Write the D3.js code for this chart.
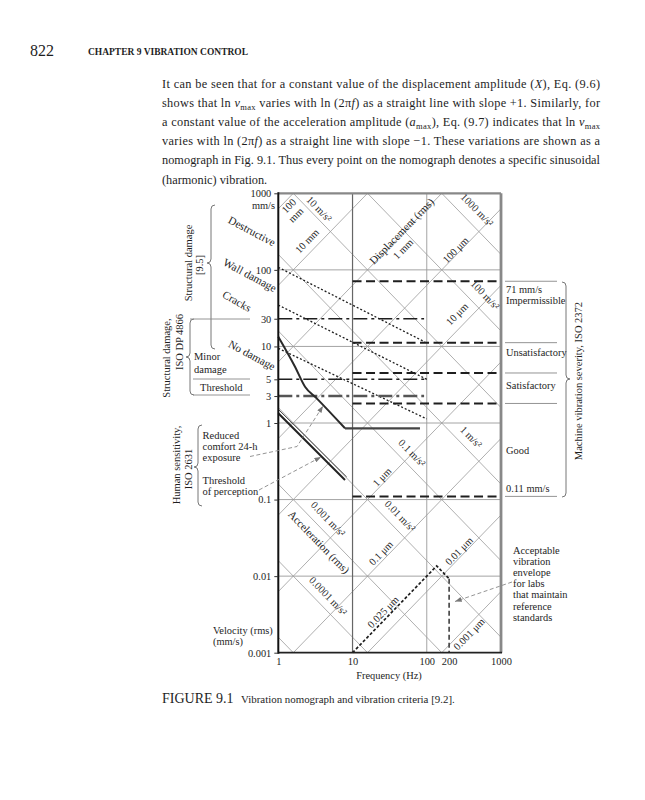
<!DOCTYPE html>
<html><head><meta charset="utf-8">
<script src="https://cdn.jsdelivr.net/npm/d3@7"></script>
<style>
body{margin:0;background:#fff;}
svg{display:block;}
text{font-family:"Liberation Serif","Times New Roman",serif;fill:#1e1e1e;}
</style></head><body>
<svg id="c" width="645" height="800"></svg>
<script>
// ---------------- DATA ----------------
const freqTicks = [1, 10, 100, 200, 1000];
const freqTickLabels = ["1", "10", "100", "200", "1000"];
// tick positions (labels 30, 5, 3 sit at these velocities)
const velTickValues = [1000, 100, 23, 10, 3.72, 2.25, 1, 0.1, 0.01, 0.001];
const velTickLabels = ["1000", "100", "30", "10", "5", "3", "1", "0.1", "0.01", "0.001"];
const hGridValues = [100, 10, 1, 0.1, 0.01];
const vGridValues = [10, 100];
// constant-displacement lines (mm) and constant-acceleration lines (mm/s^2)
const displacementMM = [1e-6, 1e-5, 1e-4, 1e-3, 1e-2, 1e-1, 1, 10, 100];
const accelerationMMs2 = [1e-2, 1e-1, 1, 10, 100, 1e3, 1e4, 1e5, 1e6];
// labels on diagonals: text, frequency, velocity, family
const diagLabelText = ["10 m/s²", "10 mm", "1 mm", "1000 m/s²", "100 μm", "100 m/s²", "10 μm",
  "0.1 m/s²", "1 m/s²", "1 μm", "0.01 m/s²", "0.001 m/s²", "0.1 μm", "0.01 μm", "0.0001 m/s²", "0.025 μm", "0.001 μm"];
const diagLabelFreq = [3.54, 2.44, 48, 476, 245, 611, 256, 63.4, 395, 25, 43.7, 4.68, 24.2, 272, 4.68, 25.8, 372];
const diagLabelVel = [623, 238, 187, 605, 182, 47, 26.5, 0.406, 0.656, 0.197, 0.061, 0.0557, 0.020, 0.0213, 0.0055, 0.0034, 0.00175];
const diagLabelFamily = ["a", "d", "d", "a", "d", "a", "d", "a", "a", "d", "a", "a", "d", "d", "a", "d", "d"];
// ISO 2372 machine vibration severity boundaries (mm/s), 10 Hz .. 1000 Hz
const isoSeverityLevels = [71, 11.2, 4.5, 1.8, 0.11];
const isoSeverityRange = [10, 1000];
// ISO DP 4866 structural damage lines (velocity, end frequency)
const dp4866Levels = [23, 3.72, 2.25];
const dp4866EndFreq = [92, 100, 92];
// Structural damage [9.5] boundaries (dotted)
const sdFreq = [[1, 95], [1, 100], [1, 100]];
const sdVel = [[108, 11.4], [34.7, 3.72], [9.44, 1.13]];
// ISO 2631 reduced comfort 24-h exposure
const comfortFreq = [1, 1.68, 2.29, 3.29, 7.92, 81];
const comfortVel = [13.4, 5.43, 2.98, 2.1, 0.853, 0.853];
// ISO 2631 threshold of perception (double line)
const perceptFreqThin = [1, 8.35];
const perceptVelThin = [1.51, 0.197];
const perceptFreqThick = [1, 7.92];
const perceptVelThick = [1.34, 0.18];
// Acceptable vibration envelope for labs
const envFreq = [10, 136, 200];
const envVel = [0.001, 0.0136, 0.00925];
const envVertFreq = [200, 200];
const envVertVel = [0.00925, 0.001];
// ISO 2372 labels
const severityLabels = ["71 mm/s", "Impermissible", "Unsatisfactory", "Satisfactory", "Good", "0.11 mm/s"];

// ---------------- SCALES ----------------
const svg = d3.select("#c");
const x = d3.scaleLog().domain([1, 1000]).range([278.3, 501]);
const y = d3.scaleLog().domain([0.001, 1000]).range([652.7, 193.3]);
const [X0, X1] = x.range(), [Y0, Y1] = y.range();
const ink = "#1e1e1e";
const line = d3.line().x(d => x(d[0])).y(d => y(d[1]));
const zip = (a, b) => a.map((v, i) => [v, b[i]]);

const defs = svg.append("defs");
defs.append("clipPath").attr("id", "plot").append("rect")
  .attr("x", X0).attr("y", Y1).attr("width", X1 - X0).attr("height", Y0 - Y1);
defs.append("marker").attr("id", "arr").attr("viewBox", "0 0 8 6").attr("refX", 8).attr("refY", 3)
  .attr("markerWidth", 7).attr("markerHeight", 5).attr("markerUnits", "userSpaceOnUse").attr("orient", "auto")
  .append("path").attr("d", "M0,0L8,3L0,6Z").attr("fill", "#777");

// ---------------- PAGE TEXT ----------------
svg.append("text").attr("x", 30).attr("y", 50).attr("dominant-baseline", "central")
  .style("font-size", "16px").text("822");
svg.append("text").attr("x", 88).attr("y", 51).attr("dominant-baseline", "central")
  .attr("textLength", 160).attr("lengthAdjust", "spacingAndGlyphs")
  .style("font-size", "10px").style("font-weight", "bold").text("CHAPTER 9   VIBRATION CONTROL");

const para = [
  [["It can be seen that for a constant value of the displacement amplitude ("], ["X", "i"], ["), Eq. (9.6)"]],
  [["shows that ln "], ["v", "i"], ["max", "s"], [" varies with ln (2π"], ["f", "i"], [") as a straight line with slope +1. Similarly, for"]],
  [["a constant value of the acceleration amplitude ("], ["a", "i"], ["max", "s"], ["), Eq. (9.7) indicates that ln "], ["v", "i"], ["max", "s"]],
  [["varies with ln (2π"], ["f", "i"], [") as a straight line with slope −1. These variations are shown as a"]],
  [["nomograph in Fig. 9.1. Thus every point on the nomograph denotes a specific sinusoidal"]],
  [["(harmonic) vibration."]]
];
para.forEach((segs, i) => {
  const t = svg.append("text").attr("x", 162).attr("y", 88 + i * 19.1).style("font-size", "12.3px");
  if (i < 5) t.attr("textLength", 438).attr("lengthAdjust", "spacing");
  segs.forEach(s => {
    const ts = t.append("tspan").text(s[0]);
    if (s[1] === "i") ts.style("font-style", "italic");
    if (s[1] === "s") ts.style("font-size", "8.5px").attr("baseline-shift", "-3");
  });
});

svg.append("text").attr("x", 162).attr("y", 703).style("font-size", "14px").text("FIGURE 9.1");
svg.append("text").attr("x", 241).attr("y", 703).style("font-size", "10.9px")
  .text("Vibration nomograph and vibration criteria [9.2].");

// ---------------- GRID ----------------
const g = svg.append("g");
const clip = g.append("g").attr("clip-path", "url(#plot)");
const fLo = 0.3, fHi = 3000;
clip.selectAll(".disp").data(displacementMM).join("line")
  .attr("x1", x(fLo)).attr("y1", d => y(2 * Math.PI * fLo * d))
  .attr("x2", x(fHi)).attr("y2", d => y(2 * Math.PI * fHi * d))
  .attr("stroke", "#9a9a9a").attr("stroke-width", 0.8);
clip.selectAll(".acc").data(accelerationMMs2).join("line")
  .attr("x1", x(fLo)).attr("y1", d => y(d / (2 * Math.PI * fLo)))
  .attr("x2", x(fHi)).attr("y2", d => y(d / (2 * Math.PI * fHi)))
  .attr("stroke", "#9a9a9a").attr("stroke-width", 0.8);
clip.selectAll(".hg").data(hGridValues).join("line")
  .attr("x1", X0).attr("x2", X1).attr("y1", d => y(d)).attr("y2", d => y(d))
  .attr("stroke", "#9a9a9a").attr("stroke-width", 0.9);
clip.selectAll(".vg").data(vGridValues).join("line")
  .attr("y1", Y0).attr("y2", Y1).attr("x1", d => x(d)).attr("x2", d => x(d))
  .attr("stroke", (d, i) => i === 0 ? "#666" : "#9a9a9a").attr("stroke-width", (d, i) => i === 0 ? 1.2 : 0.9);

// ---------------- CRITERIA LINES ----------------
sdFreq.forEach((fs, i) => {
  g.append("path").attr("d", line(zip(fs, sdVel[i]))).attr("fill", "none")
    .attr("stroke", ink).attr("stroke-width", 1.3).attr("stroke-dasharray", "2,2");
});
dp4866Levels.forEach((v, i) => {
  g.append("path").attr("d", line([[1, v], [dp4866EndFreq[i], v]])).attr("fill", "none")
    .attr("stroke", i === 2 ? "#555" : ink).attr("stroke-width", i === 2 ? 2.6 : 1.5)
    .attr("stroke-dasharray", "14,4,3,4");
});
isoSeverityLevels.forEach(v => {
  g.append("path").attr("d", line([[isoSeverityRange[0], v], [isoSeverityRange[1], v]])).attr("fill", "none")
    .attr("stroke", ink).attr("stroke-width", 2).attr("stroke-dasharray", "9,4.5");
  g.append("line").attr("x1", 505).attr("x2", 557).attr("y1", y(v)).attr("y2", y(v))
    .attr("stroke", "#888").attr("stroke-width", 0.9);
});
g.append("path").attr("d", d3.line().x(d => x(d[0])).y(d => y(d[1])).curve(d3.curveMonotoneX)(zip(comfortFreq.slice(0, 5), comfortVel.slice(0, 5))))
  .attr("fill", "none").attr("stroke", "#2a2a2a").attr("stroke-width", 2);
g.append("path").attr("d", line(zip(comfortFreq.slice(4), comfortVel.slice(4))))
  .attr("fill", "none").attr("stroke", "#444").attr("stroke-width", 2.2);
g.append("path").attr("d", line(zip(perceptFreqThin, perceptVelThin))).attr("fill", "none")
  .attr("stroke", "#333").attr("stroke-width", 0.9);
g.append("path").attr("d", line(zip(perceptFreqThick, perceptVelThick))).attr("fill", "none")
  .attr("stroke", "#222").attr("stroke-width", 2);
g.append("path").attr("d", line(zip(envFreq, envVel))).attr("fill", "none")
  .attr("stroke", ink).attr("stroke-width", 1.7).attr("stroke-dasharray", "3,2");
g.append("path").attr("d", line(zip(envVertFreq, envVertVel))).attr("fill", "none")
  .attr("stroke", "#333").attr("stroke-width", 1.5).attr("stroke-dasharray", "5,3");

// ---------------- FRAME & AXES ----------------
g.append("line").attr("x1", X0).attr("x2", X1).attr("y1", Y1).attr("y2", Y1).attr("stroke", "#888").attr("stroke-width", 2.2);
g.append("line").attr("x1", X1).attr("x2", X1).attr("y1", Y1).attr("y2", Y0).attr("stroke", "#888").attr("stroke-width", 2.8);
g.append("line").attr("x1", X0).attr("x2", X1 + 1).attr("y1", Y0).attr("y2", Y0).attr("stroke", "#222").attr("stroke-width", 1.8);
g.append("line").attr("x1", X0).attr("x2", X0).attr("y1", Y1 - 1).attr("y2", Y0 + 1).attr("stroke", "#111").attr("stroke-width", 2);

const yAxis = d3.axisLeft(y).tickValues(velTickValues).tickFormat((d, i) => velTickLabels[i]).tickSize(4).tickPadding(3);
const ya = g.append("g").attr("transform", `translate(${X0},0)`).call(yAxis);
ya.select(".domain").remove();
ya.selectAll("text").style("font-size", "10.4px").attr("fill", ink).style("font-family", "Liberation Serif");
ya.selectAll("line").attr("stroke", "#333");
const xAxis = d3.axisBottom(x).tickValues(freqTicks).tickFormat((d, i) => freqTickLabels[i]).tickSize(0).tickPadding(5);
const xa = g.append("g").attr("transform", `translate(0,${Y0})`).call(xAxis);
xa.select(".domain").remove();
xa.selectAll("text").style("font-size", "10.4px").attr("fill", ink).style("font-family", "Liberation Serif");

const lab = (tx, px, py, size, opts = {}) => {
  const t = svg.append("text").attr("x", px).attr("y", py).attr("dominant-baseline", "central")
    .attr("text-anchor", opts.anchor || "start").style("font-size", size + "px").text(tx);
  if (opts.rot !== undefined) t.attr("transform", `rotate(${opts.rot},${px},${py})`);
  if (opts.style) t.style("font-style", opts.style);
  return t;
};
lab("mm/s", 275, 205, 10.4, { anchor: "end" });
lab("Frequency (Hz)", 389, 675, 10.4, { anchor: "middle" });
lab("Velocity (rms)", 213, 630, 10.4);
lab("(mm/s)", 213, 641, 10.4);

// ---------------- DIAGONAL LABELS ----------------
const angD = -Math.atan((y(1) - y(10)) / (x(10) - x(1))) * 180 / Math.PI;
diagLabelText.forEach((t, i) => {
  lab(t, x(diagLabelFreq[i]), y(diagLabelVel[i]), 10.4,
    { anchor: "middle", rot: diagLabelFamily[i] === "d" ? angD : -angD });
});
lab("100", x(1.39), y(683), 10.4, { anchor: "middle", rot: angD });
lab("mm", x(1.73), y(520), 10.4, { anchor: "middle", rot: angD });
lab("Displacement (rms)", x(45.7), y(321), 11, { anchor: "middle", rot: angD });
lab("Acceleration (rms)", x(3.54), y(0.0279), 11, { anchor: "middle", rot: -angD });

// ---------------- DAMAGE LABELS ----------------
lab("Destructive", 252, 231, 11.2, { anchor: "middle", rot: 28 });
lab("Wall damage", 250, 275, 11.2, { anchor: "middle", rot: 28 });
lab("Cracks", 237, 301, 11.2, { anchor: "middle", rot: 30 });
lab("No damage", 252, 355, 11.2, { anchor: "middle", rot: 28 });

// ---------------- BRACES & SIDE TEXT ----------------
function brace(bx, y1, y2, ym, dir) {
  const w = 4;
  svg.append("path").attr("fill", "none").attr("stroke", "#777").attr("stroke-width", 1)
    .attr("d", `M${bx - dir * w},${y1} Q${bx},${y1} ${bx},${y1 + w} L${bx},${ym - w} Q${bx},${ym} ${bx + dir * w},${ym} Q${bx},${ym} ${bx},${ym + w} L${bx},${y2 - w} Q${bx},${y2} ${bx - dir * w},${y2}`);
}
brace(211, 205, 349, 263, -1);
brace(190, 319, 395, 357, -1);
brace(198, 425, 506, 467, -1);
brace(566, 282, 497, 379, 1);

lab("Structural damage", 188, 263, 10.5, { anchor: "middle", rot: -90 });
lab("[9.5]", 199.5, 265, 10.5, { anchor: "middle", rot: -90 });
lab("Structural damage,", 166.5, 358, 10.5, { anchor: "middle", rot: -90 });
lab("ISO DP 4866", 179.5, 342, 10.5, { anchor: "middle", rot: -90 });
lab("Human sensitivity,", 176.7, 465, 10.5, { anchor: "middle", rot: -90 });
lab("ISO 2631", 188, 469, 10.5, { anchor: "middle", rot: -90 });
lab("Machine vibration severity, ISO 2372", 578, 381, 10.5, { anchor: "middle", rot: -90 });

[[190, 319], [193, 379], [193, 395]].forEach(p => {
  svg.append("line").attr("x1", p[0]).attr("x2", 250).attr("y1", p[1]).attr("y2", p[1])
    .attr("stroke", "#888").attr("stroke-width", 0.9);
});
lab("Minor", 194, 356, 10.5);
lab("damage", 194, 369, 10.5);
lab("Threshold", 200, 387.5, 10.5);

lab("Reduced", 202.5, 435, 10.5);
lab("comfort 24-h", 202.5, 446, 10.5);
lab("exposure", 202.5, 457, 10.5);
lab("Threshold", 202.5, 480, 10.5);
lab("of perception", 202.5, 491.5, 10.5);
svg.append("path").attr("d", "M250,456.5L297,446.5L323,406").attr("fill", "none")
  .attr("stroke", "#888").attr("stroke-width", 0.9).attr("stroke-dasharray", "4,2.5").attr("marker-end", "url(#arr)");
svg.append("path").attr("d", "M259,490L321,457").attr("fill", "none")
  .attr("stroke", "#888").attr("stroke-width", 0.9).attr("stroke-dasharray", "4,2.5").attr("marker-end", "url(#arr)");

const sevY = [289.3, 300.7, 352.7, 385, 450, 488.3];
severityLabels.forEach((t, i) => lab(t, 506, sevY[i], 10.4));

["Acceptable", "vibration", "envelope", "for labs", "that maintain", "reference", "standards"]
  .forEach((t, i) => lab(t, 513, 550.5 + i * 11.1, 10.4));
svg.append("path").attr("d", "M512,582L455,601.5").attr("fill", "none")
  .attr("stroke", "#888").attr("stroke-width", 0.9).attr("stroke-dasharray", "4,2.5").attr("marker-end", "url(#arr)");
</script>
</body></html>
